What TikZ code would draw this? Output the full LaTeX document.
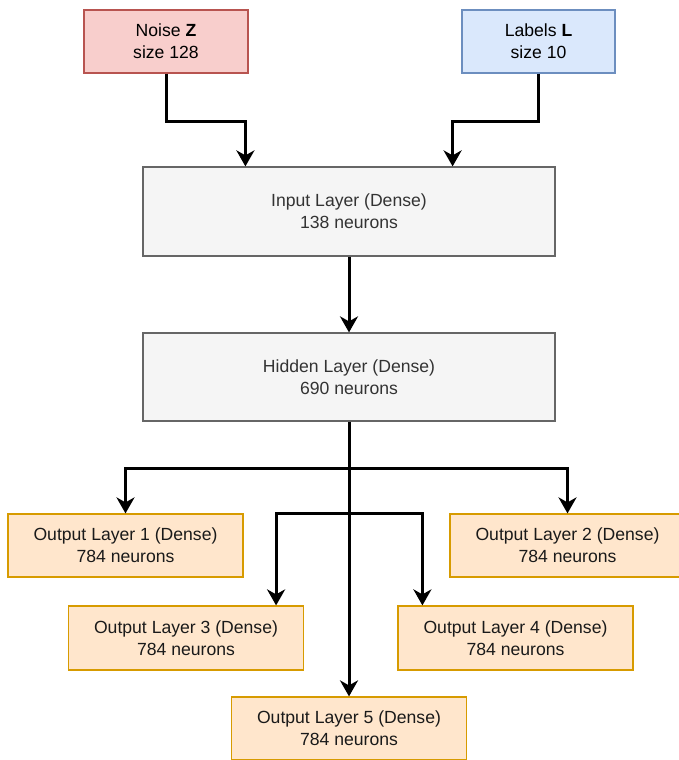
\documentclass[tikz,border=0pt]{standalone}
\usepackage{fontspec}
\setmainfont{Liberation Sans}
\usetikzlibrary{arrows.meta,calc}
\definecolor{noisefill}{HTML}{F8CECC}
\definecolor{noiseline}{HTML}{B85450}
\definecolor{labelfill}{HTML}{DAE8FC}
\definecolor{labelline}{HTML}{6C8EBF}
\definecolor{layerfill}{HTML}{F5F5F5}
\definecolor{layerline}{HTML}{666666}
\definecolor{layertext}{HTML}{333333}
\definecolor{outfill}{HTML}{FFE6CC}
\definecolor{outline}{HTML}{D79B00}
\definecolor{outtext}{HTML}{1A1A1A}
\tikzset{
  box/.style={rectangle, draw, line width=1.2pt, align=center, inner sep=0pt,
    font=\fontsize{17.6}{22}\selectfont},
  noisebox/.style={box, fill=noisefill, draw=noiseline, text=black},
  labelbox/.style={box, fill=labelfill, draw=labelline, text=black},
  layerbox/.style={box, fill=layerfill, draw=layerline, text=layertext},
  outbox/.style={box, fill=outfill, draw=outline, text=outtext,
    minimum width=235pt, minimum height=63pt},
  arr/.style={line width=3pt, black,
    -{Stealth[length=16pt, width=18pt, inset=5pt]}}
}
\begin{document}
\begin{tikzpicture}[x=1pt, y=-1pt]
  \useasboundingbox (0,0) rectangle (679,760);
  \fill[white] (0,0) rectangle (679,760);

  % inputs
  \node[noisebox, minimum width=164pt, minimum height=63pt] (noise) at (166,41.5)
    {Noise \textbf{Z}\\size 128};
  \node[labelbox, minimum width=153pt, minimum height=63pt] (labels) at (538.5,41.5)
    {Labels \textbf{L}\\size 10};

  % dense layers
  \node[layerbox, minimum width=412pt, minimum height=89pt] (input) at (349,211.5)
    {Input Layer (Dense)\\138 neurons};
  \node[layerbox, minimum width=412pt, minimum height=88pt] (hidden) at (349,377)
    {Hidden Layer (Dense)\\690 neurons};

  % output heads
  \node[outbox] (out1) at (125.5,545.5) {Output Layer 1 (Dense)\\784 neurons};
  \node[outbox] (out2) at (567.5,545.5) {Output Layer 2 (Dense)\\784 neurons};
  \node[outbox, minimum height=64pt] (out3) at (186,638) {Output Layer 3 (Dense)\\784 neurons};
  \node[outbox, minimum height=64pt] (out4) at (515.5,638) {Output Layer 4 (Dense)\\784 neurons};
  \node[outbox] (out5) at (349,728.5) {Output Layer 5 (Dense)\\784 neurons};

  % entry points on the layer boxes
  \coordinate (inL) at ($(input.north west)+(103,0)$);
  \coordinate (inR) at ($(input.north east)+(-103,0)$);
  \coordinate (t3) at ($(out3.north east)+(-28,0)$);
  \coordinate (t4) at ($(out4.north west)+(25,0)$);
  \coordinate (split1) at ($(hidden.south)+(0,47)$);
  \coordinate (split2) at ($(hidden.south)+(0,92)$);

  % connectors
  \draw[arr] (noise.south) -- ++(0,48) -| (inL);
  \draw[arr] (labels.south) -- ++(0,48) -| (inR);
  \draw[arr] (input.south) -- (hidden.north);
  \draw[arr] (hidden.south) -- (out5.north);
  \draw[arr] (split1) -| (out1.north);
  \draw[arr] (split1) -| (out2.north);
  \draw[arr] (split2) -| (t3);
  \draw[arr] (split2) -| (t4);
\end{tikzpicture}
\end{document}
